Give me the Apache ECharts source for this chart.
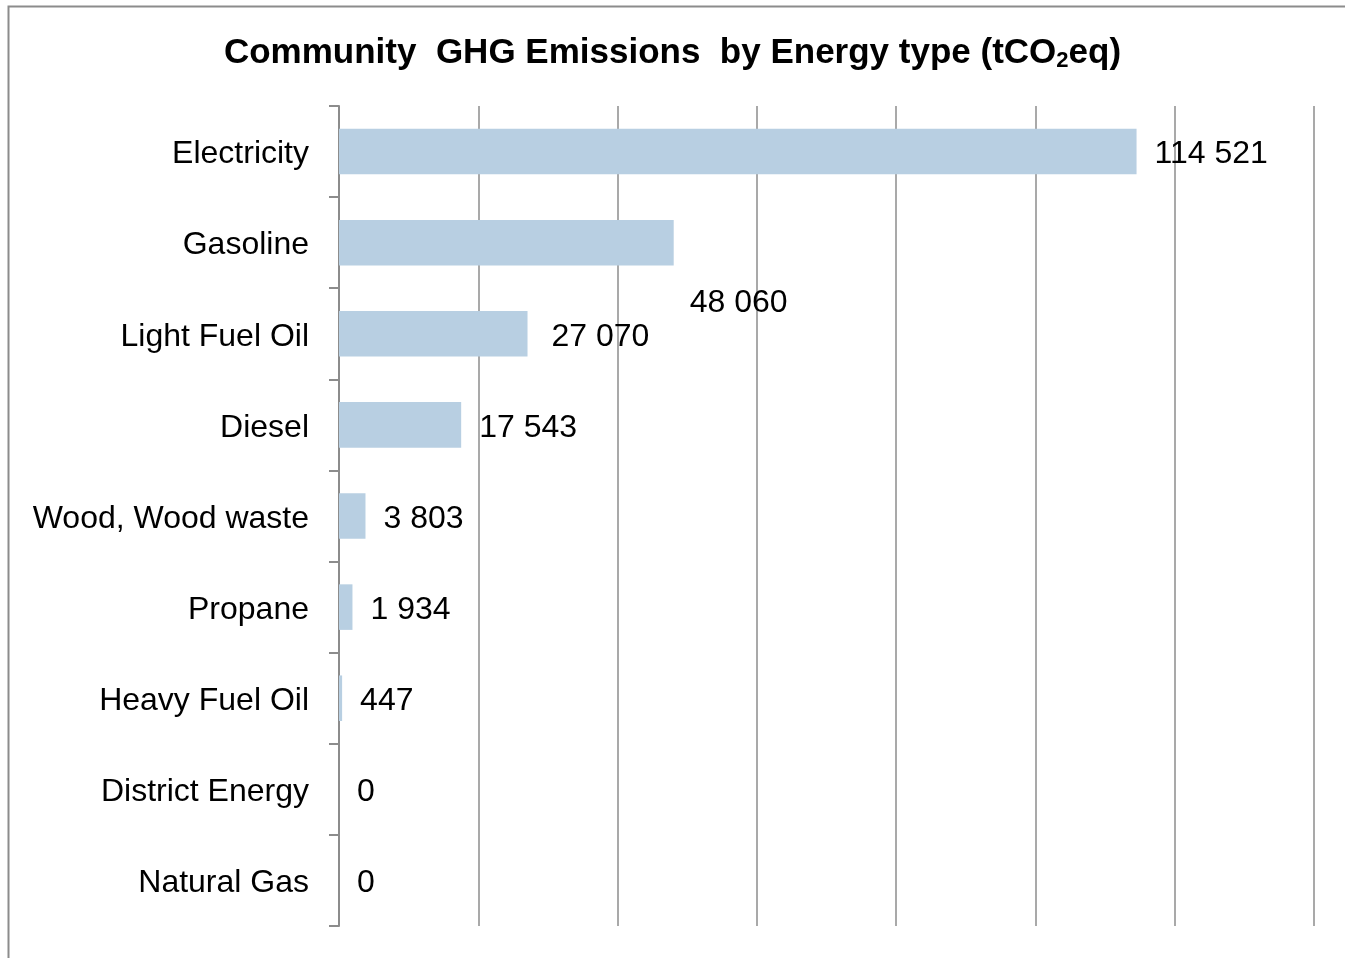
<!DOCTYPE html>
<html>
<head>
<meta charset="utf-8">
<script src="https://cdn.jsdelivr.net/npm/echarts@6/dist/echarts.min.js"></script>
<style>
html,body{margin:0;padding:0;background:#fff;}
#chart{width:1345px;height:958px;}
</style>
</head>
<body>
<div id="chart"></div>
<script>
var categories = ['Electricity','Gasoline','Light Fuel Oil','Diesel','Wood, Wood waste','Propane','Heavy Fuel Oil','District Energy','Natural Gas'];
var values = [114521, 48060, 27070, 17543, 3803, 1934, 447, 0, 0];
var labelTexts = ['114 521','48 060','27 070','17 543','3 803','1 934','447','0','0'];

var chart = echarts.init(document.getElementById('chart'));
var data = values.map(function(v, i){
  var item = {value: v};
  if (i === 1) item.label = {offset: [-2, 61]};
  if (i === 2) item.label = {offset: [6, 3]};
  return item;
});
var FONT = '"Liberation Sans", Arial, sans-serif';
chart.setOption({
  animation: false,
  backgroundColor: '#fff',
  title: {
    left: 'center',
    top: 29,
    text: '{a|Community  GHG Emissions  by Energy type (tCO}{s|2}{a|eq)}',
    textStyle: {
      rich: {
        a: {fontFamily: FONT, fontSize: 35, fontWeight: 'bold', color: '#000', lineHeight: 38},
        s: {fontFamily: FONT, fontSize: 22, fontWeight: 'bold', color: '#000', lineHeight: 38, verticalAlign: 'bottom', padding: [14, 0, 0, 0]}
      }
    }
  },
  graphic: [{
    type: 'rect', left: 6, top: 4, silent: true,
    shape: {x: 0, y: 0, width: 1360, height: 980},
    style: {fill: 'none', stroke: '#8c8c8c', lineWidth: 2}
  }],
  grid: {left: 339, right: 31, top: 106, bottom: 32, containLabel: false},
  xAxis: {
    type: 'value', min: 0, max: 140000, interval: 20000,
    axisLabel: {show: false},
    axisLine: {show: false},
    axisTick: {show: false},
    splitLine: {show: true, lineStyle: {color: '#8c8c8c', width: 1.5}}
  },
  yAxis: {
    type: 'category', inverse: true, data: categories,
    axisLine: {show: true, lineStyle: {color: '#8c8c8c', width: 2}},
    axisTick: {show: true, length: 10, alignWithLabel: false, lineStyle: {color: '#8c8c8c', width: 2}},
    axisLabel: {
      margin: 30, color: '#000',
      formatter: function(v){ return '{v|' + v + '}'; },
      rich: {v: {fontFamily: FONT, fontSize: 32, color: '#000', padding: [6, 0, 0, 0]}}
    },
    splitLine: {show: false}
  },
  series: [{
    type: 'bar', data: data, barWidth: '50%',
    itemStyle: {color: '#b8cfe2'},
    label: {
      show: true, position: 'right', distance: 18, offset: [0, 3],
      fontFamily: FONT, fontSize: 32, color: '#000',
      formatter: function(p){ return labelTexts[p.dataIndex]; }
    }
  }]
});
</script>
</body>
</html>
